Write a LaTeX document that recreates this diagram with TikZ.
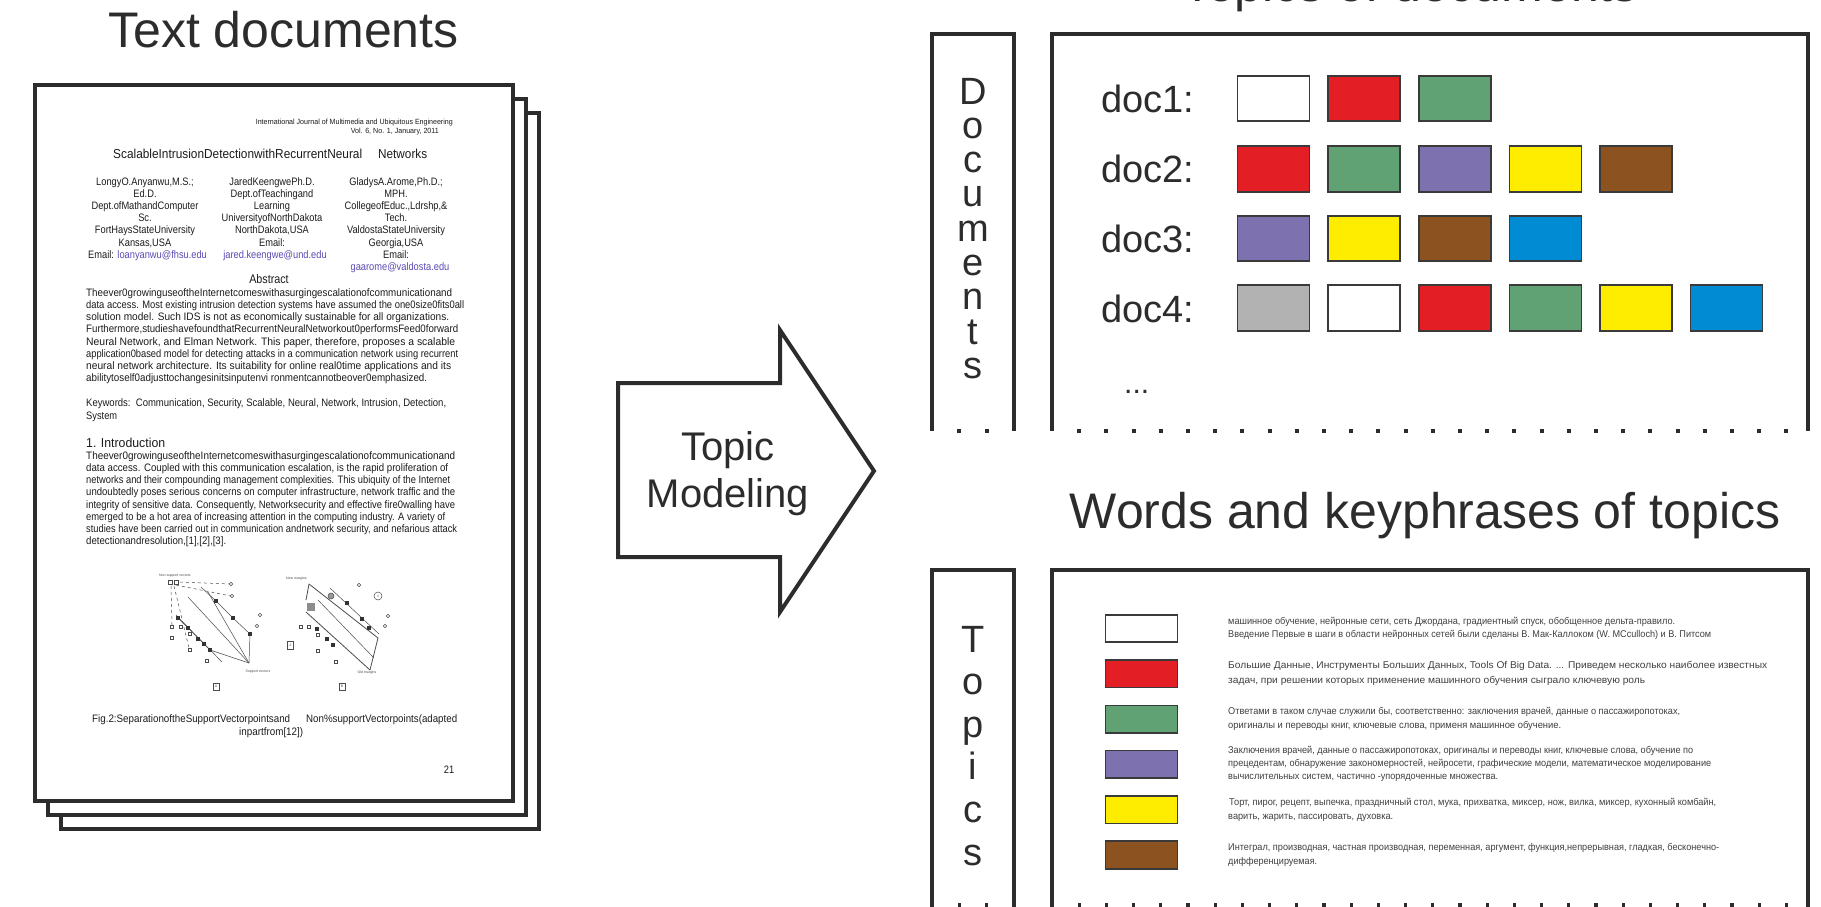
\documentclass[tikz,border=0pt]{standalone}
\usepackage{fontspec}
\setmainfont{Liberation Sans}
\usepackage{graphicx}
\definecolor{ink}{HTML}{2C2C2C}
\definecolor{boxline}{HTML}{3A3A3A}
\definecolor{cred}{HTML}{E31E24}
\definecolor{cgreen}{HTML}{60A273}
\definecolor{cpurple}{HTML}{7E71B0}
\definecolor{cyellow}{HTML}{FFED00}
\definecolor{cbrown}{HTML}{8C5220}
\definecolor{cblue}{HTML}{008BD2}
\definecolor{cgray}{HTML}{B2B2B2}
\definecolor{linkc}{HTML}{5A4BB4}
\definecolor{cyrtext}{HTML}{404040}
\definecolor{pagetext}{HTML}{1C1C1C}
\newcommand{\fitw}[2]{\resizebox{#1pt}{\height}{#2}}
\newcommand{\narrow}[1]{\scalebox{0.86}[1]{#1}}
\newcommand{\pline}[5]{\node[#1, anchor=base west] (#2) at (#3) {\fitw{#4}{#5}};}
\newcommand{\figosq}[2]{\draw[figline, fill=white] (#1,#2) ++(-1.6,-1.6) rectangle ++(3.2,3.2);}
\newcommand{\figfsq}[2]{\fill[black!80] (#1,#2) ++(-1.8,-1.8) rectangle ++(3.6,3.6);}
\newcommand{\figocirc}[3]{\draw[figline] (#1,#2) circle (#3pt);}
\begin{document}
\begin{tikzpicture}[x=1pt,y=-1pt,
  bigtitle/.style={font=\fontsize{50}{60}\selectfont, text=ink, inner sep=0pt},
  midtext/.style={font=\fontsize{40}{48}\selectfont, text=ink, inner sep=0pt},
  doclabel/.style={font=\fontsize{38}{45}\selectfont, text=ink, inner sep=0pt},
  vletter/.style={font=\fontsize{38}{45}\selectfont, text=ink, inner sep=0pt},
  pageframe/.style={draw=ink, line width=4pt, fill=white, line join=miter},
  panel/.style={draw=ink, line width=4pt, line join=miter},
  arrowshape/.style={draw=ink, line width=4pt, fill=white, line join=miter},
  tbox/.style={draw=boxline, line width=1.6pt, minimum width=72pt, minimum height=45.5pt, inner sep=0pt},
  lbox/.style={draw=boxline, line width=1.6pt, minimum width=72pt, minimum height=27.5pt, inner sep=0pt},
  ptext/.style={font=\fontsize{10.8}{12}\selectfont, text=pagetext, inner sep=0pt},
  ptitle/.style={font=\fontsize{13}{15}\selectfont, text=pagetext, inner sep=0pt},
  phead/.style={font=\fontsize{7.5}{8}\selectfont, text=pagetext, inner sep=0pt},
  cyr/.style={font=\fontsize{9.8}{11}\selectfont, text=cyrtext, inner sep=0pt},
  figline/.style={line width=0.5pt, draw=black!70},
  figlabel/.style={font=\fontsize{3.5}{4}\selectfont, text=black!70, inner sep=0pt},
  dotmark/.style={fill=ink},
]
\useasboundingbox (0,0) rectangle (1821,907);
\clip (0,0) rectangle (1821,907);
\fill[white] (0,0) rectangle (1821,907);

% ---------- titles ----------
\node[bigtitle, anchor=base] (ttext) at (283.5,48) {Text documents};
\node[bigtitle, anchor=base] (ttopdoc) at (1410,1.5) {Topics of documents};
\node[bigtitle, anchor=base] (twords) at (1425,528) {Words and keyphrases of topics};

% ---------- stacked pages ----------
\draw[pageframe] (61,113) rectangle (539,829);
\draw[pageframe] (48,99) rectangle (526,815);
\draw[pageframe] (35,85) rectangle (513,801);

% header
\node[phead, anchor=base east] (h1) at (453,124.5) {\fitw{197}{International Journal of Multimedia and Ubiquitous Engineering}};
\node[phead, anchor=base east] (h2) at (439,133.5) {\fitw{88}{Vol. 6, No. 1, January, 2011}};
% paper title
\pline{ptitle}{pt1}{113,158}{249}{ScalableIntrusionDetectionwithRecurrentNeural}
\pline{ptitle}{pt2}{378,158}{49}{Networks}
% authors
\foreach [count=\i from 0] \t in {{LongyO.Anyanwu,M.S.;},{Ed.D.},{Dept.ofMathandComputer},{Sc.},{FortHaysStateUniversity},{Kansas,USA}}
  \node[ptext, anchor=base] (au1\i) at (145,{185+12.2*\i}) {\narrow{\t}};
\node[ptext, anchor=base west] (au1e) at (88,258.2) {\narrow{Email: \textcolor{linkc}{loanyanwu@fhsu.edu}}};
\foreach [count=\i from 0] \t in {{JaredKeengwePh.D.},{Dept.ofTeachingand},{Learning},{UniversityofNorthDakota},{NorthDakota,USA},{Email:}}
  \node[ptext, anchor=base] (au2\i) at (272,{185+12.2*\i}) {\narrow{\t}};
\node[ptext, anchor=base, text=linkc] (au2e) at (275,258.2) {\narrow{jared.keengwe@und.edu}};
\foreach [count=\i from 0] \t in {{GladysA.Arome,Ph.D.;},{MPH.},{CollegeofEduc.,Ldrshp,\&},{Tech.},{ValdostaStateUniversity},{Georgia,USA},{Email:}}
  \node[ptext, anchor=base] (au3\i) at (396,{185+12.2*\i}) {\narrow{\t}};
\node[ptext, anchor=base, text=linkc] (au3e) at (400,270.4) {\narrow{gaarome@valdosta.edu}};
% abstract
\node[ptitle, font=\fontsize{12.5}{14}\selectfont, anchor=base] (abs) at (269,283) {\narrow{Abstract}};
\pline{ptext}{ab1}{86,296}{366}{Theever0growinguseoftheInternetcomeswithasurgingescalationofcommunicationand}
\pline{ptext}{ab2}{86,308}{378}{data access. Most existing intrusion detection systems have assumed the one0size0fits0all}
\pline{ptext}{ab3}{86,320}{363}{solution model. Such IDS is not as economically sustainable for all organizations.}
\pline{ptext}{ab4}{86,332}{372}{Furthermore,studieshavefoundthatRecurrentNeuralNetworkout0performsFeed0forward}
\pline{ptext}{ab5}{86,345}{369}{Neural Network, and Elman Network. This paper, therefore, proposes a scalable}
\pline{ptext}{ab6}{86,357}{372}{application0based model for detecting attacks in a communication network using recurrent}
\pline{ptext}{ab7}{86,369}{365}{neural network architecture. Its suitability for online real0time applications and its}
\pline{ptext}{ab8}{86,381}{341}{abilitytoself0adjusttochangesinitsinputenvi ronmentcannotbeover0emphasized.}
\pline{ptext}{kw1}{86,406}{360}{Keywords:\ \ Communication, Security, Scalable, Neural, Network, Intrusion, Detection,}
\node[ptext, anchor=base west] (kw2) at (86,419) {\narrow{System}};
% introduction
\pline{ptitle}{intro}{86,447}{79}{1. Introduction}
\pline{ptext}{in1}{86,459}{369}{Theever0growinguseoftheInternetcomeswithasurgingescalationofcommunicationand}
\pline{ptext}{in2}{86,471}{362}{data access. Coupled with this communication escalation, is the rapid proliferation of}
\pline{ptext}{in3}{86,483}{364}{networks and their compounding management complexities. This ubiquity of the Internet}
\pline{ptext}{in4}{86,495}{369}{undoubtedly poses serious concerns on computer infrastructure, network traffic and the}
\pline{ptext}{in5}{86,508}{369}{integrity of sensitive data. Consequently, Networksecurity and effective fire0walling have}
\pline{ptext}{in6}{86,520}{359}{emerged to be a hot area of increasing attention in the computing industry. A variety of}
\pline{ptext}{in7}{86,532}{371}{studies have been carried out in communication andnetwork security, and nefarious attack}
\pline{ptext}{in8}{86,544}{140}{detectionandresolution,[1],[2],[3].}

% ---- small figure A ----
\node[figlabel, anchor=west] (fan) at (159,576) {Non-support vectors};
\draw[figline, dashed] (180,582) -- (230,584);
\draw[figline, dashed] (176,585) -- (231,596);
\draw[figline, dashed] (171,586) -- (172,625);
\draw[figline, dashed] (174,586) -- (189,648);
\draw[figline] (168,580) rectangle (172,584);
\draw[figline] (174,580) rectangle (178,584);
\figocirc{231}{584}{1.8}
\figocirc{232}{596}{1.8}
\figocirc{260}{615}{1.8}
\figocirc{257}{626}{1.8}
\draw[figline] (201,587) -- (216,601) -- (233,618) -- (250,634) -- (249,663);
\draw[figline] (188,597) -- (249,663);
\draw[figline] (208,592) -- (249,663);
\draw[figline] (176,615) -- (222,662);
\draw[figline] (178,618) -- (210,650) -- (249,663);
\figfsq{216}{601}\figfsq{233}{618}\figfsq{250}{634}
\figfsq{178}{618}\figfsq{188}{628}\figfsq{198}{639}\figfsq{204}{644}\figfsq{210}{650}
\figosq{172}{627}\figosq{181}{627}\figosq{172}{638}\figosq{190}{634}\figosq{190}{650}\figosq{207}{661}
\node[figlabel] (fas) at (258,672) {Support vectors};
\draw[figline] (213,683) rectangle (219,690);
\node[figlabel] (faA) at (216,686.5) {A};
% ---- small figure B ----
\node[figlabel, anchor=west] (fbn) at (286,579) {New margins};
\draw[figline, line width=0.8pt] (309,584) -- (306,600);
\draw[figline, line width=0.8pt] (309,584) -- (378,638) -- (370,670);
\draw[figline, line width=0.8pt] (306,612) -- (370,670);
\draw[figline] (318,600) -- (374,658);
\draw[figline] (330,588) -- (379,634);
\fill[black!45] (307,603) rectangle (315,611);
\draw[figline, fill=black!40] (331,596) circle (3pt);
\figocirc{359}{585}{1.8}
\figocirc{378}{596}{4}
\node[figlabel] (fb1) at (378,596) {1};
\figocirc{388}{616}{1.8}
\figocirc{385}{626}{1.8}
\figfsq{347}{603}\figfsq{362}{619}\figfsq{369}{628}
\figfsq{317}{629}\figfsq{327}{639}\figfsq{333}{645}
\figosq{301}{627}\figosq{309}{627}\figosq{318}{635}\figosq{318}{651}\figosq{336}{662}
\node[figlabel] (fbo) at (367,673) {Old margins};
\draw[figline] (339,683) rectangle (345,690);
\node[figlabel] (fbB) at (342,686.5) {B};
\draw[figline] (287,641) rectangle (293,649);
\node[figlabel] (fbm) at (290,645) {-2};
% caption
\pline{ptext}{cap1}{92,722}{198}{Fig.2:SeparationoftheSupportVectorpointsand}
\pline{ptext}{cap2}{306,722}{151}{Non\%supportVectorpoints(adapted}
\pline{ptext}{cap3}{239,735}{64}{inpartfrom[12])}
\node[ptext, anchor=base] (pgno) at (449,773) {\narrow{21}};

% ---------- arrow ----------
\draw[arrowshape] (618,383) -- (780,383) -- (780,330) -- (874,471) -- (780,612) -- (780,557) -- (618,557) -- cycle;
\node[midtext, anchor=base] (tm1) at (728,460) {Topic};
\node[midtext, anchor=base] (tm2) at (728,507) {Modeling};

% ---------- upper panels ----------
\draw[panel] (932,431) -- (932,34) -- (1014,34) -- (1014,431);
\draw[panel] (1052,431) -- (1052,34) -- (1808,34) -- (1808,431);
\foreach \x in {959.3,986.6} \fill[dotmark] ({\x-2},429) rectangle ({\x+2},433);
\foreach \k in {1,...,27} \fill[dotmark] ({1052+27.2*\k-2},429) rectangle ({1052+27.2*\k+2},433);
\foreach [count=\i from 0] \c in {D,o,c,u,m,e,n,t,s}
  \node[vletter, anchor=base] (dl\i) at (973,{104+34.3*\i}) {\c};

\node[doclabel, anchor=base west] (doc1) at (1101,112) {doc1:};
\node[doclabel, anchor=base west] (doc2) at (1101,182) {doc2:};
\node[doclabel, anchor=base west] (doc3) at (1101,252) {doc3:};
\node[doclabel, anchor=base west] (doc4) at (1101,322) {doc4:};
\foreach [count=\i from 0] \c in {white,cred,cgreen}
  \node[tbox, fill=\c] (ba\i) at ({1273.5+90.6*\i},98.5) {};
\foreach [count=\i from 0] \c in {cred,cgreen,cpurple,cyellow,cbrown}
  \node[tbox, fill=\c] (bb\i) at ({1273.5+90.6*\i},169) {};
\foreach [count=\i from 0] \c in {cpurple,cyellow,cbrown,cblue}
  \node[tbox, fill=\c] (bc\i) at ({1273.5+90.6*\i},238.5) {};
\foreach [count=\i from 0] \c in {cgray,white,cred,cgreen,cyellow,cblue}
  \node[tbox, fill=\c] (bd\i) at ({1273.5+90.6*\i},308) {};
\node[doclabel, font=\fontsize{30}{36}\selectfont, anchor=base west] (more) at (1124,393) {...};

% ---------- lower panels ----------
\draw[panel] (932,912) -- (932,570) -- (1014,570) -- (1014,912);
\draw[panel] (1052,912) -- (1052,570) -- (1808,570) -- (1808,912);
\foreach \x in {959.3,986.6} \fill[dotmark] ({\x-1.6},903) rectangle ({\x+1.6},910);
\foreach \k in {1,...,27} \fill[dotmark] ({1052+27.2*\k-1.6},903) rectangle ({1052+27.2*\k+1.6},910);
\foreach [count=\i from 0] \c in {T,o,p,i,c,s}
  \node[vletter, anchor=base] (tl\i) at (973,{652+42.6*\i}) {\c};
\foreach [count=\i from 0] \c in {white,cred,cgreen,cpurple,cyellow,cbrown}
  \node[lbox, fill=\c] (lg\i) at (1141.5,{628.5+45.3*\i}) {};

\pline{cyr}{c11}{1228,624}{447}{машинное обучение, нейронные сети, сеть Джордана, градиентный спуск, обобщенное дельта-правило.}
\pline{cyr}{c12}{1228,637}{483}{Введение Первые в шаги в области нейронных сетей были сделаны В. Мак-Каллоком (W. MCculloch) и В. Питсом}
\pline{cyr}{c21}{1228,668}{539}{Большие Данные, Инструменты Больших Данных, Tools Of Big Data. ... Приведем несколько наиболее известных}
\pline{cyr}{c22}{1228,683}{417}{задач, при решении которых применение машинного обучения сыграло ключевую роль}
\pline{cyr}{c31}{1228,714}{452}{Ответами в таком случае служили бы, соответственно: заключения врачей, данные о пассажиропотоках,}
\pline{cyr}{c32}{1228,728}{333}{оригиналы и переводы книг, ключевые слова, применя машинное обучение.}
\pline{cyr}{c41}{1228,753}{465}{Заключения врачей, данные о пассажиропотоках, оригиналы и переводы книг, ключевые слова, обучение по}
\pline{cyr}{c42}{1228,766}{483}{прецедентам, обнаружение закономерностей, нейросети, графические модели, математическое моделирование}
\pline{cyr}{c43}{1228,779}{270}{вычислительных систем, частично -упорядоченные множества.}
\pline{cyr}{c51}{1229,805}{487}{Торт, пирог, рецепт, выпечка, праздничный стол, мука, прихватка, миксер, нож, вилка, миксер, кухонный комбайн,}
\pline{cyr}{c52}{1228,819}{165}{варить, жарить, пассировать, духовка.}
\pline{cyr}{c61}{1228,850}{491}{Интеграл, производная, частная производная, переменная, аргумент, функция,непрерывная, гладкая, бесконечно-}
\pline{cyr}{c62}{1228,864}{89}{дифференцируемая.}
\end{tikzpicture}
\end{document}
